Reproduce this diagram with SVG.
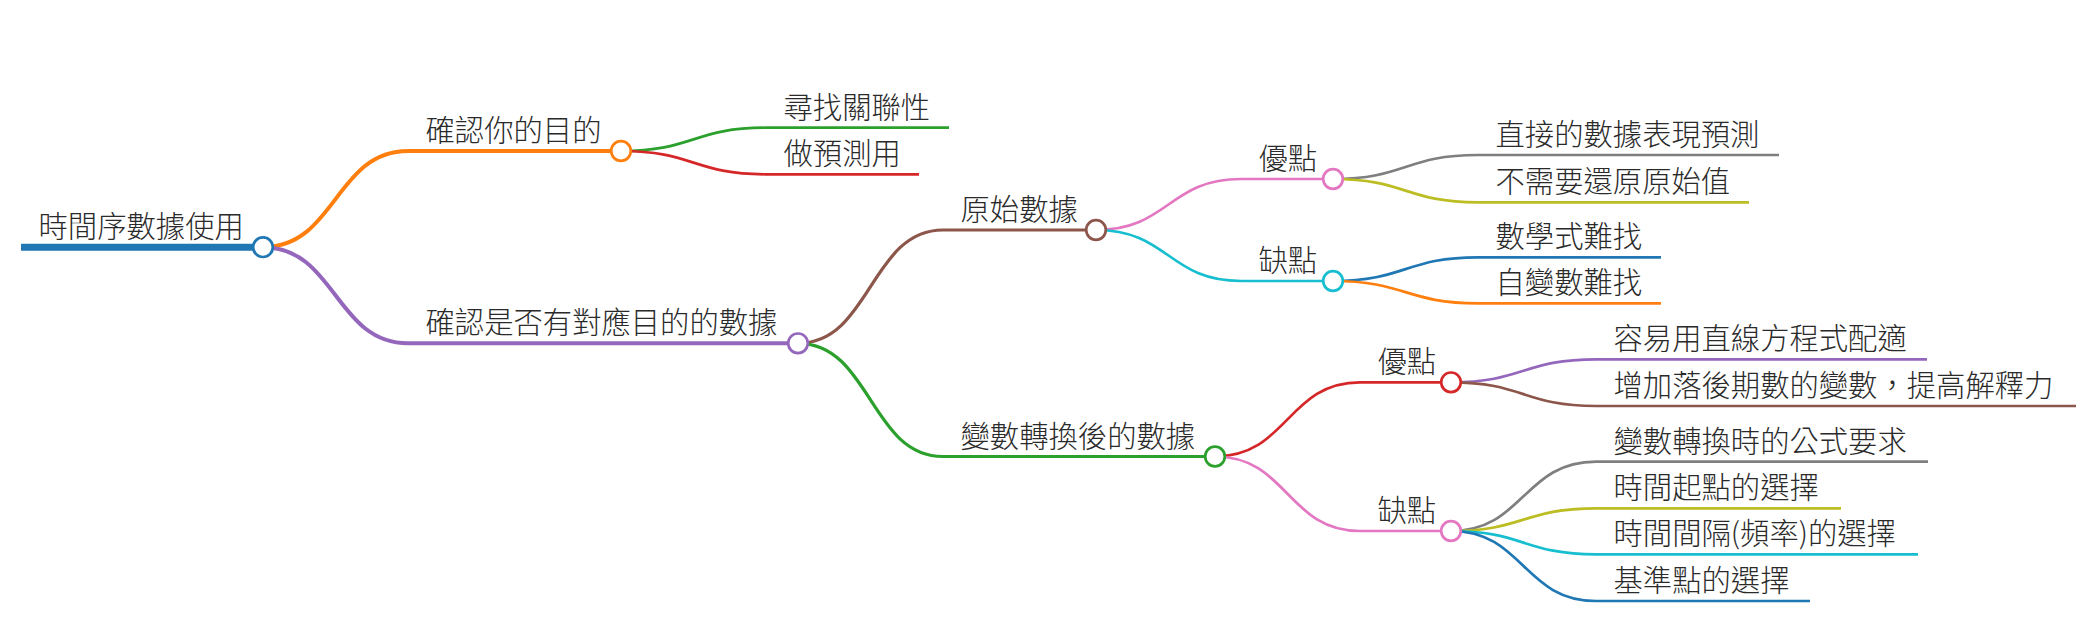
<svg xmlns="http://www.w3.org/2000/svg" width="2093" height="620" viewBox="0 0 2093 620">
<style>
  text { font-family: "Noto Sans CJK TC", "Noto Sans CJK SC", "Liberation Sans", sans-serif; font-size: 29.33px; font-weight: 300; fill: #2a2a2a; }
  path, line { fill: none; }
  circle { fill: #fff; stroke-width: 2.7; }
  .d0 { stroke-width: 7; }
  .d1 { stroke-width: 4; }
  .d2 { stroke-width: 3.2; }
  .d3 { stroke-width: 2.7; }
  .blue { stroke: #1f77b4; }
  .orange { stroke: #ff7f0e; }
  .green { stroke: #2ca02c; }
  .red { stroke: #d62728; }
  .purple { stroke: #9467bd; }
  .brown { stroke: #8c564b; }
  .pink { stroke: #e377c2; }
  .gray { stroke: #7f7f7f; }
  .olive { stroke: #bcbd22; }
  .cyan { stroke: #17becf; }
</style>
<rect width="2093" height="620" fill="#fff"/>
<g id="connectors">
  <path class="d1 orange" d="M263,247.2 C335.5,247.2 335.5,151 408,151"/>
  <path class="d1 purple" d="M263,247.2 C335.5,247.2 335.5,343.3 408,343.3"/>
  <path class="d3 green" d="M621,151 C693.5,151 693.5,127.7 766,127.7"/>
  <path class="d3 red" d="M621,151 C693.5,151 693.5,174.3 766,174.3"/>
  <path class="d2 brown" d="M798,343.3 C870.5,343.3 870.5,230 943,230"/>
  <path class="d2 green" d="M798,343.3 C870.5,343.3 870.5,456.5 943,456.5"/>
  <path class="d3 pink" d="M1096,230 C1168.5,230 1168.5,179 1241,179"/>
  <path class="d3 cyan" d="M1096,230 C1168.5,230 1168.5,281 1241,281"/>
  <path class="d3 gray" d="M1333,179 C1405.5,179 1405.5,155 1478,155"/>
  <path class="d3 olive" d="M1333,179 C1405.5,179 1405.5,202.3 1478,202.3"/>
  <path class="d3 blue" d="M1333,281 C1405.5,281 1405.5,257.3 1478,257.3"/>
  <path class="d3 orange" d="M1333,281 C1405.5,281 1405.5,303.3 1478,303.3"/>
  <path class="d3 red" d="M1215,456.5 C1287.5,456.5 1287.5,382.3 1360,382.3"/>
  <path class="d3 pink" d="M1215,456.5 C1287.5,456.5 1287.5,531 1360,531"/>
  <path class="d3 purple" d="M1451,382.3 C1523.5,382.3 1523.5,359.3 1596,359.3"/>
  <path class="d3 brown" d="M1451,382.3 C1523.5,382.3 1523.5,406 1596,406"/>
  <path class="d3 gray" d="M1451,531 C1523.5,531 1523.5,461.7 1596,461.7"/>
  <path class="d3 olive" d="M1451,531 C1523.5,531 1523.5,508.3 1596,508.3"/>
  <path class="d3 cyan" d="M1451,531 C1523.5,531 1523.5,554.3 1596,554.3"/>
  <path class="d3 blue" d="M1451,531 C1523.5,531 1523.5,601 1596,601"/>
</g>
<g id="n-root">
  <path class="d0 blue" d="M21,247.2 H263"/>
  <circle class="blue" cx="263" cy="247.2" r="9.8"/>
  <text x="38.5" y="237.2">時間序數據使用</text>
</g>
<g id="n-purpose">
  <path class="d1 orange" d="M408,151 H621"/>
  <circle class="orange" cx="621" cy="151" r="9.8"/>
  <text x="425.5" y="141">確認你的目的</text>
</g>
<g id="n-correlation">
  <path class="d3 green" d="M766,127.7 H949"/>
  <text x="783.5" y="117.7">尋找關聯性</text>
</g>
<g id="n-predict">
  <path class="d3 red" d="M766,174.3 H919"/>
  <text x="783.5" y="164.3">做預測用</text>
</g>
<g id="n-data">
  <path class="d1 purple" d="M408,343.3 H798"/>
  <circle class="purple" cx="798" cy="343.3" r="9.8"/>
  <text x="425.5" y="333.3">確認是否有對應目的的數據</text>
</g>
<g id="n-raw">
  <path class="d2 brown" d="M943,230 H1096"/>
  <circle class="brown" cx="1096" cy="230" r="9.8"/>
  <text x="960.5" y="220">原始數據</text>
</g>
<g id="n-raw-pro">
  <path class="d3 pink" d="M1241,179 H1333"/>
  <circle class="pink" cx="1333" cy="179" r="9.8"/>
  <text x="1258.5" y="169">優點</text>
</g>
<g id="n-raw-pro-1">
  <path class="d3 gray" d="M1478,155 H1779"/>
  <text x="1495.5" y="145">直接的數據表現預測</text>
</g>
<g id="n-raw-pro-2">
  <path class="d3 olive" d="M1478,202.3 H1749"/>
  <text x="1495.5" y="192.3">不需要還原原始值</text>
</g>
<g id="n-raw-con">
  <path class="d3 cyan" d="M1241,281 H1333"/>
  <circle class="cyan" cx="1333" cy="281" r="9.8"/>
  <text x="1258.5" y="271">缺點</text>
</g>
<g id="n-raw-con-1">
  <path class="d3 blue" d="M1478,257.3 H1661"/>
  <text x="1495.5" y="247.3">數學式難找</text>
</g>
<g id="n-raw-con-2">
  <path class="d3 orange" d="M1478,303.3 H1661"/>
  <text x="1495.5" y="293.3">自變數難找</text>
</g>
<g id="n-trans">
  <path class="d2 green" d="M943,456.5 H1215"/>
  <circle class="green" cx="1215" cy="456.5" r="9.8"/>
  <text x="960.5" y="446.5">變數轉換後的數據</text>
</g>
<g id="n-trans-pro">
  <path class="d3 red" d="M1360,382.3 H1451"/>
  <circle class="red" cx="1451" cy="382.3" r="9.8"/>
  <text x="1377.5" y="372.3">優點</text>
</g>
<g id="n-trans-pro-1">
  <path class="d3 purple" d="M1596,359.3 H1927"/>
  <text x="1613.5" y="349.3">容易用直線方程式配適</text>
</g>
<g id="n-trans-pro-2">
  <path class="d3 brown" d="M1596,406 H2076"/>
  <text x="1613.5" y="396">增加落後期數的變數，提高解釋力</text>
</g>
<g id="n-trans-con">
  <path class="d3 pink" d="M1360,531 H1451"/>
  <circle class="pink" cx="1451" cy="531" r="9.8"/>
  <text x="1377.5" y="521">缺點</text>
</g>
<g id="n-trans-con-1">
  <path class="d3 gray" d="M1596,461.7 H1928"/>
  <text x="1613.5" y="451.7">變數轉換時的公式要求</text>
</g>
<g id="n-trans-con-2">
  <path class="d3 olive" d="M1596,508.3 H1841"/>
  <text x="1613.5" y="498.3">時間起點的選擇</text>
</g>
<g id="n-trans-con-3">
  <path class="d3 cyan" d="M1596,554.3 H1918"/>
  <text x="1613.5" y="544.3">時間間隔(頻率)的選擇</text>
</g>
<g id="n-trans-con-4">
  <path class="d3 blue" d="M1596,601 H1810"/>
  <text x="1613.5" y="591">基準點的選擇</text>
</g>
</svg>
